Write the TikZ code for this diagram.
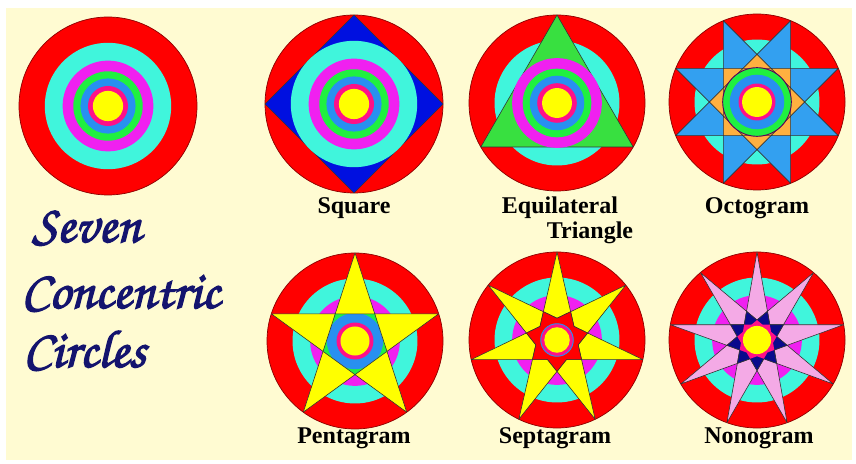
\documentclass[tikz,border=0pt]{standalone}
\usepackage[T1,TU]{fontenc}
\usepackage{fontspec}
\setmainfont{Liberation Serif}
\usepackage{tikz}
\usetikzlibrary{positioning}
\definecolor{cBg}{HTML}{FFFBD2}
\definecolor{cRed}{HTML}{FF0000}
\definecolor{cCyan}{HTML}{40F5DC}
\definecolor{cMag}{HTML}{F020F0}
\definecolor{cGreen}{HTML}{20F040}
\definecolor{cBlue}{HTML}{2890F0}
\definecolor{cPink}{HTML}{FF1088}
\definecolor{cYellow}{HTML}{FFFF00}
\definecolor{cSqBlue}{HTML}{0010E0}
\definecolor{cTriGreen}{HTML}{38E040}
\definecolor{cOctBlue}{HTML}{33A0F0}
\definecolor{cOrange}{HTML}{FFB040}
\definecolor{cLilac}{HTML}{F4AAE6}
\definecolor{cNavy}{HTML}{0A0A8C}
\definecolor{cScript}{HTML}{14146E}
\newcommand{\handfont}{\fontencoding{T1}\fontfamily{pzc}\fontseries{mb}\fontshape{it}\fontsize{45.5}{50}\selectfont}
\newcommand{\heavy}[1]{\special{pdf:literal direct 2 Tr 1.1 w}#1\special{pdf:literal direct 0 Tr}}
\tikzset{
  rim/.style={fill=cRed, draw=cRed!55!black, line width=0.6pt},
  edge/.style={draw=black!80, line width=0.5pt, line join=round},
  lbl/.style={font=\fontsize{20.5}{22}\selectfont\bfseries, inner sep=0pt},
  hand/.style={font=\handfont, text=cScript, anchor=base west, inner sep=0pt},
}

\begin{document}
\begin{tikzpicture}[x=0.3mm, y=0.3mm]
  \useasboundingbox (0,0) rectangle (856,463);
  \fill[white] (0,0) rectangle (856,463);
  \fill[cBg] (6,3) rectangle (852,455);
  % plain rings
  \begin{scope}[shift={(108,357)}, scale=89]
    \filldraw[rim] (0,0) circle (1);
    \foreach \r/\c in {.71/cCyan,.51/cMag,.39/cGreen,.31/cBlue,.225/cPink,.17/cYellow}
      \fill[\c] (0,0) circle (\r);
  \end{scope}
  % square
  \begin{scope}[shift={(354,359)}, scale=89]
    \filldraw[rim] (0,0) circle (1);
    \filldraw[fill=cSqBlue, edge] (0:1) -- (90:1) -- (180:1) -- (270:1) -- cycle;
    \foreach \r/\c in {.71/cCyan,.51/cMag,.39/cGreen,.31/cBlue,.225/cPink,.17/cYellow}
      \fill[\c] (0,0) circle (\r);
  \end{scope}
  % triangle
  \begin{scope}[shift={(557,360)}, scale=88]
    \filldraw[rim] (0,0) circle (1);
    \fill[cCyan] (0,0) circle (.71);
    \filldraw[fill=cTriGreen, edge] (90:1) -- (210:1) -- (330:1) -- cycle;
    \foreach \r/\c in {.51/cMag,.39/cGreen,.31/cBlue,.225/cPink,.17/cYellow}
      \fill[\c] (0,0) circle (\r);
  \end{scope}
  % octogram
  \begin{scope}[shift={(757,361)}, scale=88]
    \filldraw[rim] (0,0) circle (1);
    \fill[cCyan] (0,0) circle (.71);
    \fill[cOctBlue] (22.5:1) \foreach \k in {1,...,7} { -- ({22.5+\k*135}:1) } -- cycle;
    \fill[cOrange] (0:.541) \foreach \k in {0,...,7} { -- ({22.5+\k*45}:.414) -- ({45+\k*45}:.541) } -- cycle;
    \draw[edge] (22.5:1) \foreach \k in {1,...,7} { -- ({22.5+\k*135}:1) } -- cycle;
    \filldraw[fill=cGreen, draw=violet!70!black, line width=0.8pt] (0,0) circle (.39);
    \foreach \r/\c in {.31/cBlue,.21/cPink,.17/cYellow}
      \fill[\c] (0,0) circle (\r);
  \end{scope}
  % pentagram
  \begin{scope}[shift={(355,122)}, scale=88]
    \filldraw[rim] (0,0) circle (1);
    \foreach \r/\c in {.71/cCyan,.51/cMag,.39/cGreen,.32/cBlue,.21/cPink,.165/cYellow}
      \fill[\c] (0,0) circle (\r);
    \filldraw[fill=cYellow, edge, even odd rule] (90:1) \foreach \k in {1,...,4} { -- ({90+\k*144}:1) } -- cycle;
  \end{scope}
  % septagram
  \begin{scope}[shift={(557,123)}, scale=88]
    \filldraw[rim] (0,0) circle (1);
    \foreach \r/\c in {.71/cCyan,.51/cMag}
      \fill[\c] (0,0) circle (\r);
    \filldraw[fill=cYellow, edge] (90:1) \foreach \k in {1,...,6} { -- ({90+\k*154.2857}:1) } -- cycle;
    \filldraw[fill=cRed, edge] (90:.247) \foreach \k in {0,...,6} { -- ({90+(\k+.5)*51.4286}:.357) -- ({90+(\k+1)*51.4286}:.247) } -- cycle;
    \filldraw[fill=cPink, draw=cBlue, line width=0.8pt] (0,0) circle (.185);
    \fill[cYellow] (0,0) circle (.145);
  \end{scope}
  % nonogram
  \begin{scope}[shift={(757,123)}, scale=88]
    \filldraw[rim] (0,0) circle (1);
    \foreach \r/\c in {.71/cCyan,.51/cMag}
      \fill[\c] (0,0) circle (\r);
    \filldraw[fill=cLilac, edge] (90:1) \foreach \k in {1,...,8} { -- ({90+\k*160}:1) } -- cycle;
    \filldraw[fill=cNavy, edge] (90:.2267) \foreach \k in {0,...,8} { -- ({90+(\k+.5)*40}:.347) -- ({90+(\k+1)*40}:.2267) } -- cycle;
    \fill[cPink] (90:.2267) \foreach \k in {0,...,8} { -- ({90+(\k+.5)*40}:.185) -- ({90+(\k+1)*40}:.2267) } -- cycle;
    \fill[cYellow] (0,0) circle (.16);
  \end{scope}
  % labels
  \node[lbl] (sq) at (354,255) {Square};
  \node[lbl] (eq) at (560,255) {Equilateral};
  \node[lbl] (tri) at (590,230) {Triangle};
  \node[lbl] (oct) at (757,255) {Octogram};
  \node[lbl] (pent) at (354,25) {Pentagram};
  \node[lbl] (sept) at (555,25) {Septagram};
  \node[lbl] (non) at (759,25) {Nonogram};
  \node[hand] (seven) at (32,221) {\heavy{Seven}};
  \node[hand] (conc) at (21,155) {\heavy{Concentric}};
  \node[hand] (circ) at (23,96) {\heavy{Circles}};
\end{tikzpicture}
\end{document}
